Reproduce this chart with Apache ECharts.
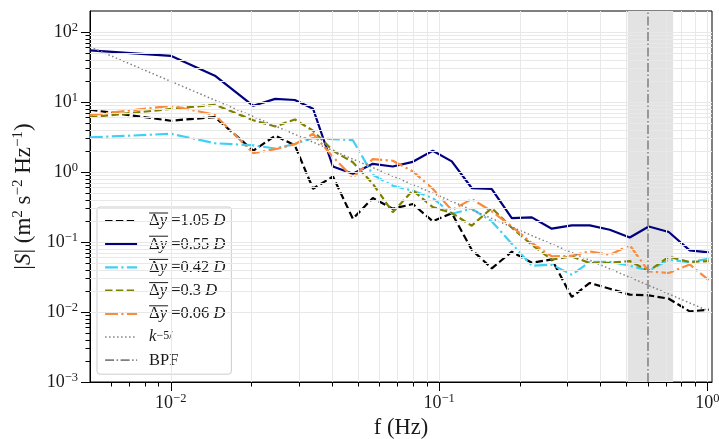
<!DOCTYPE html>
<html><head><meta charset="utf-8">
<script src="https://cdn.jsdelivr.net/npm/echarts@6/dist/echarts.min.js"></script>
<style>html,body{margin:0;padding:0;background:#fff}#c{width:719px;height:439px}</style>
</head><body><div id="c"></div>
<script>
// ---- data ----
const freq = [0.005, 0.01, 0.0146, 0.0203, 0.0245, 0.029, 0.0339, 0.0402, 0.0477, 0.0566, 0.0672, 0.0798, 0.0947, 0.1115, 0.1323, 0.1572, 0.1866, 0.2216, 0.263, 0.3123, 0.3643, 0.4326, 0.5136, 0.6045, 0.7176, 0.859, 1.011];
const s105 = [7.76, 5.41, 6.1, 2.02, 3.30, 2.41, 0.577, 0.865, 0.215, 0.425, 0.299, 0.349, 0.198, 0.258, 0.0776, 0.042, 0.0727, 0.0506, 0.0564, 0.0164, 0.026, 0.0215, 0.0177, 0.0173, 0.0155, 0.0102, 0.0108];
const s055 = [54.6, 45.8, 23.8, 8.85, 11.1, 10.7, 8.02, 1.20, 0.945, 1.31, 1.20, 1.40, 2.02, 1.42, 0.591, 0.572, 0.220, 0.225, 0.155, 0.173, 0.173, 0.150, 0.116, 0.167, 0.139, 0.0759, 0.071];
const s042 = [3.12, 3.52, 2.58, 2.41, 2.17, 2.52, 3.06, 2.96, 2.85, 0.915, 0.637, 0.541, 0.425, 0.254, 0.299, 0.197, 0.0946, 0.0459, 0.0474, 0.0341, 0.052, 0.0523, 0.0459, 0.0389, 0.0559, 0.0515, 0.0577];
const s030 = [6.06, 7.97, 9.15, 5.5, 4.48, 5.64, 3.89, 2.02, 1.38, 0.68, 0.267, 0.546, 0.316, 0.26, 0.171, 0.306, 0.16, 0.0915, 0.0559, 0.0623, 0.0501, 0.0506, 0.0535, 0.0385, 0.0617, 0.0518, 0.0535];
const s006 = [6.52, 8.85, 6.59, 1.86, 2.12, 2.5, 3.52, 1.65, 0.837, 1.53, 1.45, 1.02, 0.577, 0.285, 0.412, 0.274, 0.167, 0.0968, 0.0623, 0.0637, 0.0734, 0.0659, 0.09, 0.038, 0.0361, 0.0479, 0.0285];
const kFreq = [0.005, 1.0];
const kVals = [61.5, 0.0105];
const bpfFreq = 0.6;
const bandRange = [0.505, 0.745];
const seriesLabels = ['1.05', '0.55', '0.42', '0.3', '0.06'];
const xMajorTicks = [0.01, 0.1, 1];
const xMinorTicks = [0.006, 0.007, 0.008, 0.009, 0.02, 0.03, 0.04, 0.05, 0.06, 0.07, 0.08, 0.09, 0.2, 0.3, 0.4, 0.5, 0.6, 0.7, 0.8, 0.9];
const yMajorTicks = [0.001, 0.01, 0.1, 1, 10, 100];
const yMinorTicks = [0.002, 0.003, 0.004, 0.005, 0.006, 0.007, 0.008, 0.009, 0.02, 0.03, 0.04, 0.05, 0.06, 0.07, 0.08, 0.09, 0.2, 0.3, 0.4, 0.5, 0.6, 0.7, 0.8, 0.9, 2, 3, 4, 5, 6, 7, 8, 9, 20, 30, 40, 50, 60, 70, 80, 90];

// ---- styling ----
const FONT = "'Liberation Serif','Times New Roman',serif";
const TXT = '#1a1a1a';
const X_MIN = 0.005, X_MAX = 1.04, Y_MIN = 0.001, Y_MAX = 200;

function powLabel(v) {
  const e = Math.round(Math.log10(v));
  return '{b|10}{s|' + (e < 0 ? '\u2212' + (-e) : e) + '}';
}
const tickRich = {
  b: { fontFamily: FONT, fontSize: 18, lineHeight: 22, color: TXT },
  s: { fontFamily: FONT, fontSize: 12.5, verticalAlign: 'top', color: TXT }
};

const seriesStyles = [
  { color: '#000000', width: 2.2, type: [7.4, 3.4] },
  { color: '#000080', width: 2.2, type: 'solid' },
  { color: '#3fd0f5', width: 2.2, type: [12.8, 3.4, 2.2, 3.4] },
  { color: '#808000', width: 2.2, type: [7.4, 3.4] },
  { color: '#fb8a3c', width: 2.2, type: [12.8, 3.4, 2.2, 3.4] }
];
const seriesValues = [s105, s055, s042, s030, s006];
const seriesKeys = ['d105', 'd055', 'd042', 'd030', 'd006'];

const legendText = {};
seriesKeys.forEach((k, i) => {
  legendText[k] = '{g| }{ol| }\n{g| }{n|\u0394}{i|y}{n| =' + seriesLabels[i] + ' }{i|D}\n{p| }';
});
legendText['k53'] = '{g| }{sp| }\n{g| }{i|k}{s|\u22125/}\n{p| }';
legendText['BPF'] = '{g| }{sp| }\n{g| }{n|BPF}\n{p| }';

const legendItems = seriesKeys.map((k, i) => ({
  name: k,
  lineStyle: { width: seriesStyles[i].width, type: seriesStyles[i].type, color: seriesStyles[i].color }
})).concat([
  { name: 'k53', lineStyle: { width: 1.5, type: [1.5, 2.5], color: '#808080' } },
  { name: 'BPF', lineStyle: { width: 1.7, type: [9, 2.5, 1.5, 2.5], color: '#7f7f7f' } }
]);

const gridLineData = []
  .concat(xMajorTicks.concat(xMinorTicks).map(v => ({ xAxis: v })))
  .concat(yMajorTicks.concat(yMinorTicks).map(v => ({ yAxis: v })));

const series = [
  {
    name: '_grid', type: 'line', data: [], silent: true, z: 1,
    markLine: {
      silent: true, symbol: ['none', 'none'], animation: false,
      label: { show: false }, emphasis: { disabled: true },
      lineStyle: { color: '#e8e8e8', width: 1, type: 'solid' },
      data: gridLineData
    }
  },
  {
    name: '_band', type: 'line', data: [], silent: true, z: 2,
    markArea: {
      silent: true, animation: false,
      itemStyle: { color: '#e3e3e3' },
      data: [[{ xAxis: bandRange[0] }, { xAxis: bandRange[1] }]]
    }
  }
];
seriesKeys.forEach((k, i) => {
  const st = seriesStyles[i];
  series.push({
    name: k, type: 'line', z: 4, symbol: 'none', showSymbol: false,
    color: st.color, emphasis: { disabled: true },
    lineStyle: { color: st.color, width: st.width, type: st.type },
    data: freq.map((f, j) => [f, seriesValues[i][j]])
  });
});
series.push({
  name: 'k53', type: 'line', z: 4, symbol: 'none', showSymbol: false,
  color: '#808080', emphasis: { disabled: true },
  lineStyle: { color: '#808080', width: 1.5, type: [1.5, 2.5] },
  data: kFreq.map((f, j) => [f, kVals[j]])
});
series.push({
  name: 'BPF', type: 'line', z: 3, symbol: 'none', showSymbol: false, data: [],
  color: '#7f7f7f', emphasis: { disabled: true },
  lineStyle: { color: '#7f7f7f', width: 1.5, type: [9, 2.5, 1.5, 2.5] },
  markLine: {
    silent: true, symbol: ['none', 'none'], animation: false,
    label: { show: false }, emphasis: { disabled: true },
    lineStyle: { color: '#7f7f7f', width: 1.5, type: [9, 2.5, 1.5, 2.5] },
    data: [{ xAxis: bpfFreq }]
  }
});

const minorAxisCommon = {
  axisLine: { show: false }, axisLabel: { show: false },
  splitLine: { show: false }, minorTick: { show: false }, minorSplitLine: { show: false }
};

const option = {
  animation: false,
  backgroundColor: '#ffffff',
  grid: {
    left: 90, right: 7, top: 11, bottom: 57,
    containLabel: false, outerBoundsMode: 'none',
    show: true, borderColor: '#000', borderWidth: 1, backgroundColor: 'transparent'
  },
  legend: {
    orient: 'vertical', left: 97, top: 207,
    padding: [5.5, 6, 5.5, 7], itemGap: 6.2, itemWidth: 32, itemHeight: 17,
    backgroundColor: 'rgba(255,255,255,0.8)', borderColor: '#cccccc', borderWidth: 1, borderRadius: 3,
    selectedMode: false,
    itemStyle: { opacity: 0 },
    data: legendItems,
    formatter: n => legendText[n],
    textStyle: {
      rich: {
        g: { width: 7, fontSize: 1, lineHeight: 1 },
        ol: { width: 19, height: 1, fontSize: 1, lineHeight: 1, backgroundColor: TXT },
        sp: { width: 19, height: 1, fontSize: 1, lineHeight: 1 },
        p: { fontSize: 1, lineHeight: 1 },
        n: { fontFamily: FONT, fontSize: 16.5, lineHeight: 15, color: TXT },
        i: { fontFamily: FONT, fontSize: 16.5, lineHeight: 15, fontStyle: 'italic', color: TXT },
        s: { fontFamily: FONT, fontSize: 12, verticalAlign: 'top', color: TXT }
      }
    }
  },
  xAxis: [
    {
      type: 'log', logBase: 10, min: X_MIN, max: X_MAX, position: 'bottom',
      axisLine: { show: true, onZero: false, lineStyle: { color: '#000', width: 1 } },
      axisTick: { show: true, customValues: xMajorTicks, length: 9, lineStyle: { color: '#000', width: 1 } },
      axisLabel: { show: true, customValues: xMajorTicks, formatter: powLabel, margin: 10, rich: tickRich },
      splitLine: { show: false }, minorTick: { show: false }, minorSplitLine: { show: false },
      name: 'f (Hz)', nameLocation: 'middle', nameGap: 29,
      nameTextStyle: { fontFamily: FONT, fontSize: 22.5, color: TXT }
    },
    Object.assign({
      type: 'log', logBase: 10, min: X_MIN, max: X_MAX, position: 'bottom',
      axisTick: { show: true, customValues: xMinorTicks, length: 4.5, lineStyle: { color: '#000', width: 1 } }
    }, minorAxisCommon)
  ],
  yAxis: [
    {
      type: 'log', logBase: 10, min: Y_MIN, max: Y_MAX, position: 'left',
      axisLine: { show: true, onZero: false, lineStyle: { color: '#000', width: 1 } },
      axisTick: { show: true, customValues: yMajorTicks, length: 9, lineStyle: { color: '#000', width: 1 } },
      axisLabel: { show: true, customValues: yMajorTicks, formatter: powLabel, margin: 12, rich: tickRich },
      splitLine: { show: false }, minorTick: { show: false }, minorSplitLine: { show: false },
      name: '{b||}{i|S}{b|| (m}{s|2}{b| s}{s|\u22122}{b| Hz}{s|\u22121}{b|)}',
      nameLocation: 'middle', nameGap: 49, nameRotate: 90,
      nameTextStyle: {
        rich: {
          b: { fontFamily: FONT, fontSize: 23, lineHeight: 27, color: TXT },
          i: { fontFamily: FONT, fontSize: 23, lineHeight: 27, fontStyle: 'italic', color: TXT },
          s: { fontFamily: FONT, fontSize: 15, verticalAlign: 'top', color: TXT }
        }
      }
    },
    Object.assign({
      type: 'log', logBase: 10, min: Y_MIN, max: Y_MAX, position: 'left',
      axisTick: { show: true, customValues: yMinorTicks, length: 4.5, lineStyle: { color: '#000', width: 1 } }
    }, minorAxisCommon)
  ],
  series: series
};

const chart = echarts.init(document.getElementById('c'), null, { renderer: 'canvas' });
chart.setOption(option);
</script>
</body></html>
